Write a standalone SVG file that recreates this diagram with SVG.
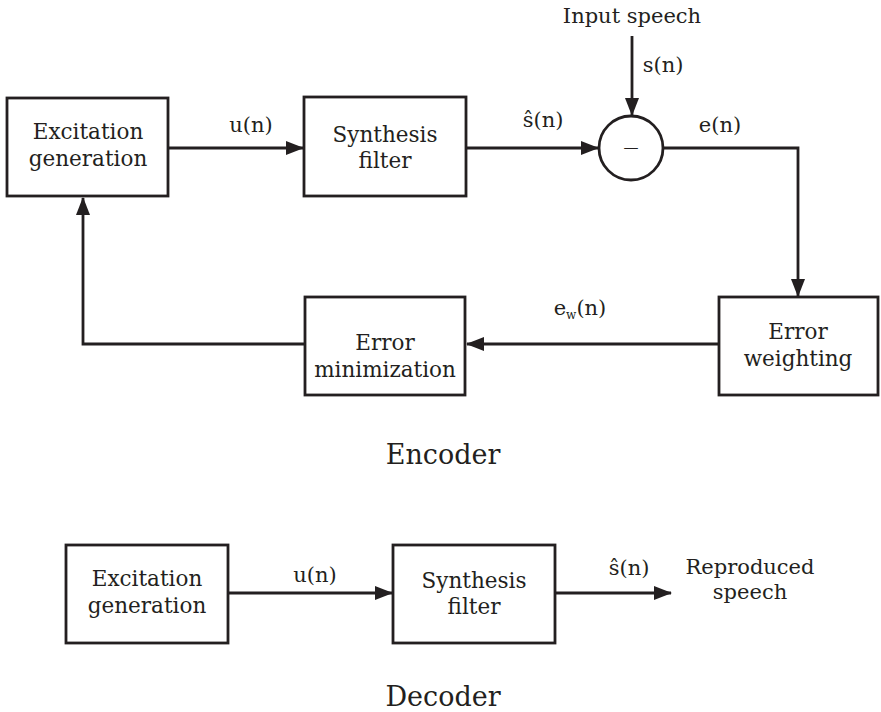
<svg xmlns="http://www.w3.org/2000/svg" width="881" height="712" viewBox="0 0 881 712">
  <style>
    .box { fill: #ffffff; stroke: #231f20; stroke-width: 2.8; }
    .wire { fill: none; stroke: #231f20; stroke-width: 2.8; }
    text { font-family: "DejaVu Serif", "Liberation Serif", serif; fill: #231f20; text-anchor: middle; }
    .node { font-size: 21.5px; }
    .lbl { font-size: 21px; }
    .title { font-size: 27px; }
  </style>
  <defs>
    <marker id="arrow" markerUnits="userSpaceOnUse" markerWidth="18" markerHeight="14" refX="17" refY="7" orient="auto">
      <path d="M0,0 L18,7 L0,14 Z" fill="#231f20"/>
    </marker>
  </defs>
  <rect width="881" height="712" fill="#ffffff"/>

  <!-- connectors -->
  <g id="connectors">
    <line class="wire" x1="168" y1="148" x2="303" y2="148" marker-end="url(#arrow)"/>
    <line class="wire" x1="466" y1="148" x2="598" y2="148" marker-end="url(#arrow)"/>
    <line class="wire" x1="632" y1="36" x2="632" y2="115" marker-end="url(#arrow)"/>
    <polyline class="wire" points="663,148 798,148 798,296" marker-end="url(#arrow)"/>
    <line class="wire" x1="719" y1="344" x2="467" y2="344" marker-end="url(#arrow)"/>
    <polyline class="wire" points="305,344 83,344 83,198" marker-end="url(#arrow)"/>
    <line class="wire" x1="228" y1="593" x2="392" y2="593" marker-end="url(#arrow)"/>
    <line class="wire" x1="555" y1="593" x2="671" y2="593" marker-end="url(#arrow)"/>
  </g>

  <!-- encoder -->
  <g id="enc-excitation">
    <rect class="box" x="7" y="98" width="161" height="98"/>
    <text class="node" x="88" y="139">Excitation</text>
    <text class="node" x="88" y="166">generation</text>
  </g>
  <g id="enc-synthesis">
    <rect class="box" x="304" y="97" width="162" height="99"/>
    <text class="node" x="385" y="142">Synthesis</text>
    <text class="node" x="385" y="168">filter</text>
  </g>
  <g id="enc-sum">
    <circle class="box" cx="631" cy="148" r="32"/>
    <text x="631" y="152" font-size="15">—</text>
  </g>
  <g id="enc-weighting">
    <rect class="box" x="719" y="297" width="159" height="98"/>
    <text class="node" x="798" y="339">Error</text>
    <text class="node" x="798" y="366">weighting</text>
  </g>
  <g id="enc-minimization">
    <rect class="box" x="305" y="297" width="160" height="98"/>
    <text class="node" x="385" y="350">Error</text>
    <text class="node" x="385" y="377">minimization</text>
  </g>

  <!-- encoder labels -->
  <g id="enc-labels">
    <text class="lbl" x="632" y="23">Input speech</text>
    <text class="lbl" x="663" y="72">s(n)</text>
    <text class="lbl" x="251" y="132">u(n)</text>
    <text class="lbl" x="543" y="127">ŝ(n)</text>
    <text class="lbl" x="720" y="132">e(n)</text>
    <text class="lbl" x="580" y="315">e<tspan font-size="12" dy="4">w</tspan><tspan dy="-4">(n)</tspan></text>
    <text class="title" x="443" y="464">Encoder</text>
  </g>

  <!-- decoder -->
  <g id="dec-excitation">
    <rect class="box" x="66" y="545" width="162" height="98"/>
    <text class="node" x="147" y="586">Excitation</text>
    <text class="node" x="147" y="613">generation</text>
  </g>
  <g id="dec-synthesis">
    <rect class="box" x="393" y="545" width="162" height="98"/>
    <text class="node" x="474" y="588">Synthesis</text>
    <text class="node" x="474" y="614">filter</text>
  </g>
  <g id="dec-labels">
    <text class="lbl" x="315" y="582">u(n)</text>
    <text class="lbl" x="629" y="575">ŝ(n)</text>
    <text class="lbl" x="750" y="574">Reproduced</text>
    <text class="lbl" x="750" y="599">speech</text>
    <text class="title" x="443" y="706">Decoder</text>
  </g>
</svg>
